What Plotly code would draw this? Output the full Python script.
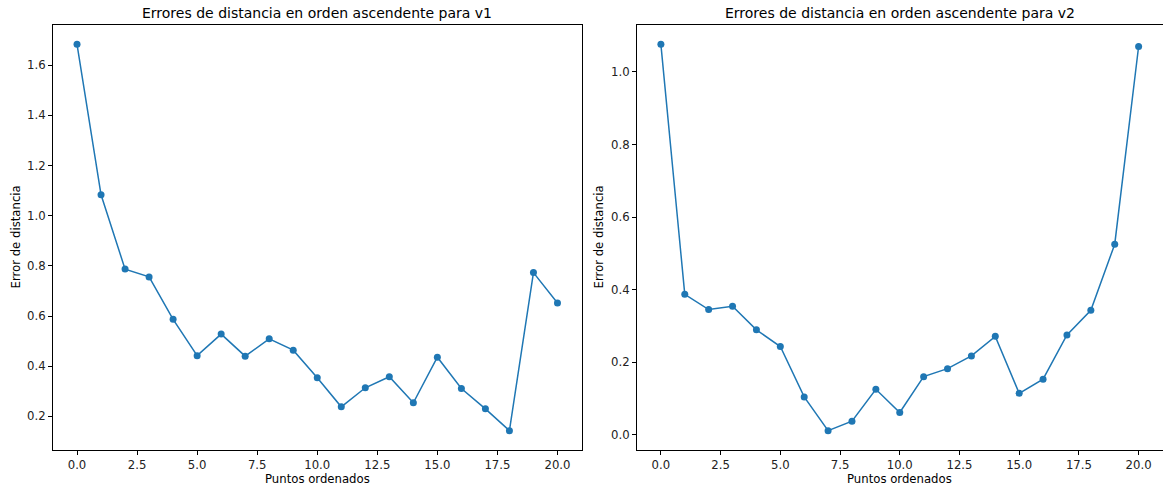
import plotly.graph_objects as go

# Sorted point indices and distance errors for each version
puntos = list(range(21))
errores_v1 = [1.683, 1.083, 0.787, 0.756, 0.587, 0.442, 0.528, 0.440, 0.509, 0.464,
              0.354, 0.238, 0.314, 0.358, 0.254, 0.436, 0.311, 0.230, 0.143, 0.773, 0.652]
errores_v2 = [1.076, 0.387, 0.345, 0.354, 0.289, 0.243, 0.104, 0.011, 0.037, 0.125,
              0.061, 0.160, 0.182, 0.217, 0.271, 0.114, 0.153, 0.275, 0.343, 0.525, 1.070]

titulos = ["Errores de distancia en orden ascendente para v1",
           "Errores de distancia en orden ascendente para v2"]
x_label = "Puntos ordenados"
y_label = "Error de distancia"

W, H = 1163, 492
FONT = "DejaVu Sans"
AZUL = "#1f77b4"
TXT = 11.7      # tick / axis-label size
TITLE = 14      # subplot title size

# Plot-area boxes in pixels: (left, right)
boxes = [(53, 581.5), (637, 1162.5)]
TOP, BOTTOM = 24.5, 450


def margin_range(vals, frac=0.05):
    lo, hi = min(vals), max(vals)
    pad = (hi - lo) * frac
    return [lo - pad, hi + pad]


fig = go.Figure()
series = [errores_v1, errores_v2]
for i, ys in enumerate(series):
    fig.add_trace(go.Scatter(
        x=puntos, y=ys, mode="lines+markers",
        line=dict(color=AZUL, width=1.5),
        marker=dict(color=AZUL, size=7),
        xaxis="x" if i == 0 else "x2",
        yaxis="y" if i == 0 else "y2",
        showlegend=False, hoverinfo="x+y",
    ))

axis_common = dict(
    showline=True, mirror=True, linecolor="black", linewidth=1,
    ticks="outside", ticklen=4, tickwidth=1, tickcolor="black",
    showgrid=False, zeroline=False,
    tickfont=dict(family=FONT, size=TXT, color="#222222"),
    tickformat=".1f",
)

layout = dict(
    width=W, height=H,
    margin=dict(l=0, r=0, t=TOP, b=H - BOTTOM, pad=0),
    paper_bgcolor="white", plot_bgcolor="white",
    font=dict(family=FONT, color="black"),
    annotations=[],
)

ydticks = [0.2, 0.2]
for i, ys in enumerate(series):
    sfx = "" if i == 0 else "2"
    left, right = boxes[i]
    layout["xaxis" + sfx] = dict(
        axis_common, domain=[left / W, right / W],
        range=margin_range(puntos), tick0=0, dtick=2.5,
        anchor="y" + sfx,
    )
    layout["yaxis" + sfx] = dict(
        axis_common, domain=[0, 1],
        range=margin_range(ys), tick0=0, dtick=ydticks[i],
        anchor="x" + sfx,
    )
    cx = (left + right) / 2 / W
    # subplot title
    layout["annotations"].append(dict(
        text=titulos[i], x=cx, y=1 + (TOP - 12) / (BOTTOM - TOP), xref="paper", yref="paper",
        xanchor="center", yanchor="middle", showarrow=False,
        font=dict(family=FONT, size=TITLE, color="black"),
    ))
    # x-axis label
    layout["annotations"].append(dict(
        text=x_label, x=cx, y=-(479 - BOTTOM) / (BOTTOM - TOP), xref="paper", yref="paper",
        xanchor="center", yanchor="middle", showarrow=False,
        font=dict(family=FONT, size=TXT, color="black"),
    ))
    # y-axis label
    ylab_x = 15 if i == 0 else 598
    layout["annotations"].append(dict(
        text=y_label, x=ylab_x / W, y=0.5, xref="paper", yref="paper",
        xanchor="center", yanchor="middle", showarrow=False, textangle=-90,
        font=dict(family=FONT, size=TXT, color="black"),
    ))

fig.update_layout(**layout)
fig.write_html("out.html")
